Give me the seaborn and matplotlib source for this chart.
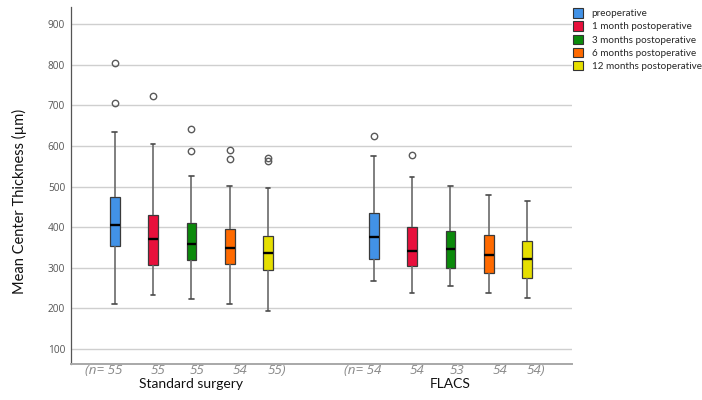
import matplotlib
matplotlib.use("Agg")
import matplotlib.pyplot as plt
from matplotlib.patches import Patch
import matplotlib.transforms as mtransforms
import numpy as np
import pandas as pd
import seaborn as sns

# ---------------- data ----------------
groups = ["Standard surgery", "FLACS"]
timepoints = ["preoperative", "1 month postoperative", "3 months postoperative",
              "6 months postoperative", "12 months postoperative"]
whisker_low = [[211, 232, 222, 209, 194], [267, 238, 255, 236, 225]]
q1 = [[352, 307, 318, 309, 295], [320, 304, 300, 287, 275]]
median = [[404, 371, 358, 348, 337], [376, 342, 347, 330, 321]]
q3 = [[474, 429, 411, 396, 378], [434, 401, 391, 381, 366]]
whisker_high = [[634, 605, 527, 502, 497], [576, 524, 502, 478, 464]]
outliers = [[[707, 806], [723], [588, 643], [567, 590], [563, 571]],
            [[624], [579], [], [], []]]
n_counts = [[55, 55, 55, 54, 55], [54, 54, 53, 54, 54]]
yticks = [100, 200, 300, 400, 500, 600, 700, 800, 900]

colors = ["#4292e6", "#e8103c", "#0b8a0b", "#ff6a00", "#e6df00"]

# five-number summaries in long form (seaborn computes the same stats from them)
rows = []
for gi, g in enumerate(groups):
    for ti, t in enumerate(timepoints):
        for stat in (whisker_low, q1, median, q3, whisker_high):
            rows.append({"group": g, "time": t, "value": stat[gi][ti]})
df = pd.DataFrame(rows)

# ---------------- figure ----------------
sns.set_style("white")
plt.rcParams["font.family"] = ["Lato", "DejaVu Sans"]

fig = plt.figure(figsize=(7.02, 4.0), dpi=100)
ax = fig.add_axes([0.1007, 0.09, 0.714, 0.8925])

width = 0.74
sns.boxplot(data=df, x="group", y="value", hue="time", order=groups,
            hue_order=timepoints, palette=colors, width=width, gap=0.75,
            whis=(0, 100), linecolor="#3a3a3a", linewidth=0.9,
            medianprops={"color": "black", "linewidth": 1.7},
            whiskerprops={"color": "#6a6a6a", "linewidth": 1.2},
            capprops={"color": "#4a4a4a", "linewidth": 1.2},
            saturation=1, legend=False, ax=ax)

# outliers
step = width / len(timepoints)
for gi in range(len(groups)):
    for ti in range(len(timepoints)):
        vals = outliers[gi][ti]
        if vals:
            x = gi + (ti - (len(timepoints) - 1) / 2) * step
            ax.plot([x] * len(vals), vals, "o", mfc="none", mec="#5a5a5a",
                    mew=1.0, ms=4.6, zorder=5)

ax.set_xlim(-0.466, 1.469)
ax.set_ylim(62, 943)
ax.set_yticks(yticks)
ax.set_yticklabels([str(v) for v in yticks], fontsize=7.3, color="#555555",
                   family=["Open Sans", "DejaVu Sans"])
ax.tick_params(axis="y", length=0, pad=4)
ax.set_xticks([])
ax.set_xlabel("")
ax.grid(axis="y", color="#cfcfcf", linewidth=1.0)
ax.set_axisbelow(True)
for s in ("top", "right"):
    ax.spines[s].set_visible(False)
ax.spines["left"].set_color("#555555")
ax.spines["left"].set_linewidth(0.9)
ax.spines["bottom"].set_color("#a8a8a8")
ax.spines["bottom"].set_linewidth(1.4)

ax.set_ylabel("Mean Center Thickness (µm)", fontsize=10.5, color="#111111")
ax.yaxis.set_label_coords(-0.088, 0.454)

# n labels and group labels below the axis
trans = mtransforms.blended_transform_factory(ax.transData, ax.transAxes)
n_kw = dict(transform=trans, fontsize=9.6, style="italic", color="#8a8a8a",
            va="center", family=["Open Sans", "DejaVu Sans"])
mid_offsets = [-0.131, 0.023, 0.189]
for gi, g in enumerate(groups):
    n = n_counts[gi]
    ax.text(gi - 0.266, -0.019, f"(n= {n[0]}", ha="right", **n_kw)
    for k, off in enumerate(mid_offsets):
        ax.text(gi + off, -0.019, f"{n[k + 1]}", ha="center", **n_kw)
    ax.text(gi + 0.295, -0.019, f"{n[4]})", ha="left", **n_kw)
    ax.text(gi, -0.056, g, transform=trans, ha="center", va="center",
            fontsize=10, color="#111111")

# legend
handles = [Patch(facecolor=c, edgecolor="#333333", linewidth=0.8) for c in colors]
fig.legend(handles, timepoints, loc="upper left", bbox_to_anchor=(0.816, 0.979),
           frameon=False, fontsize=7.1, handlelength=1.05, handleheight=1.05,
           handletextpad=0.85, labelspacing=0.32, borderpad=0, borderaxespad=0)

fig.savefig("out.png", dpi=100)
